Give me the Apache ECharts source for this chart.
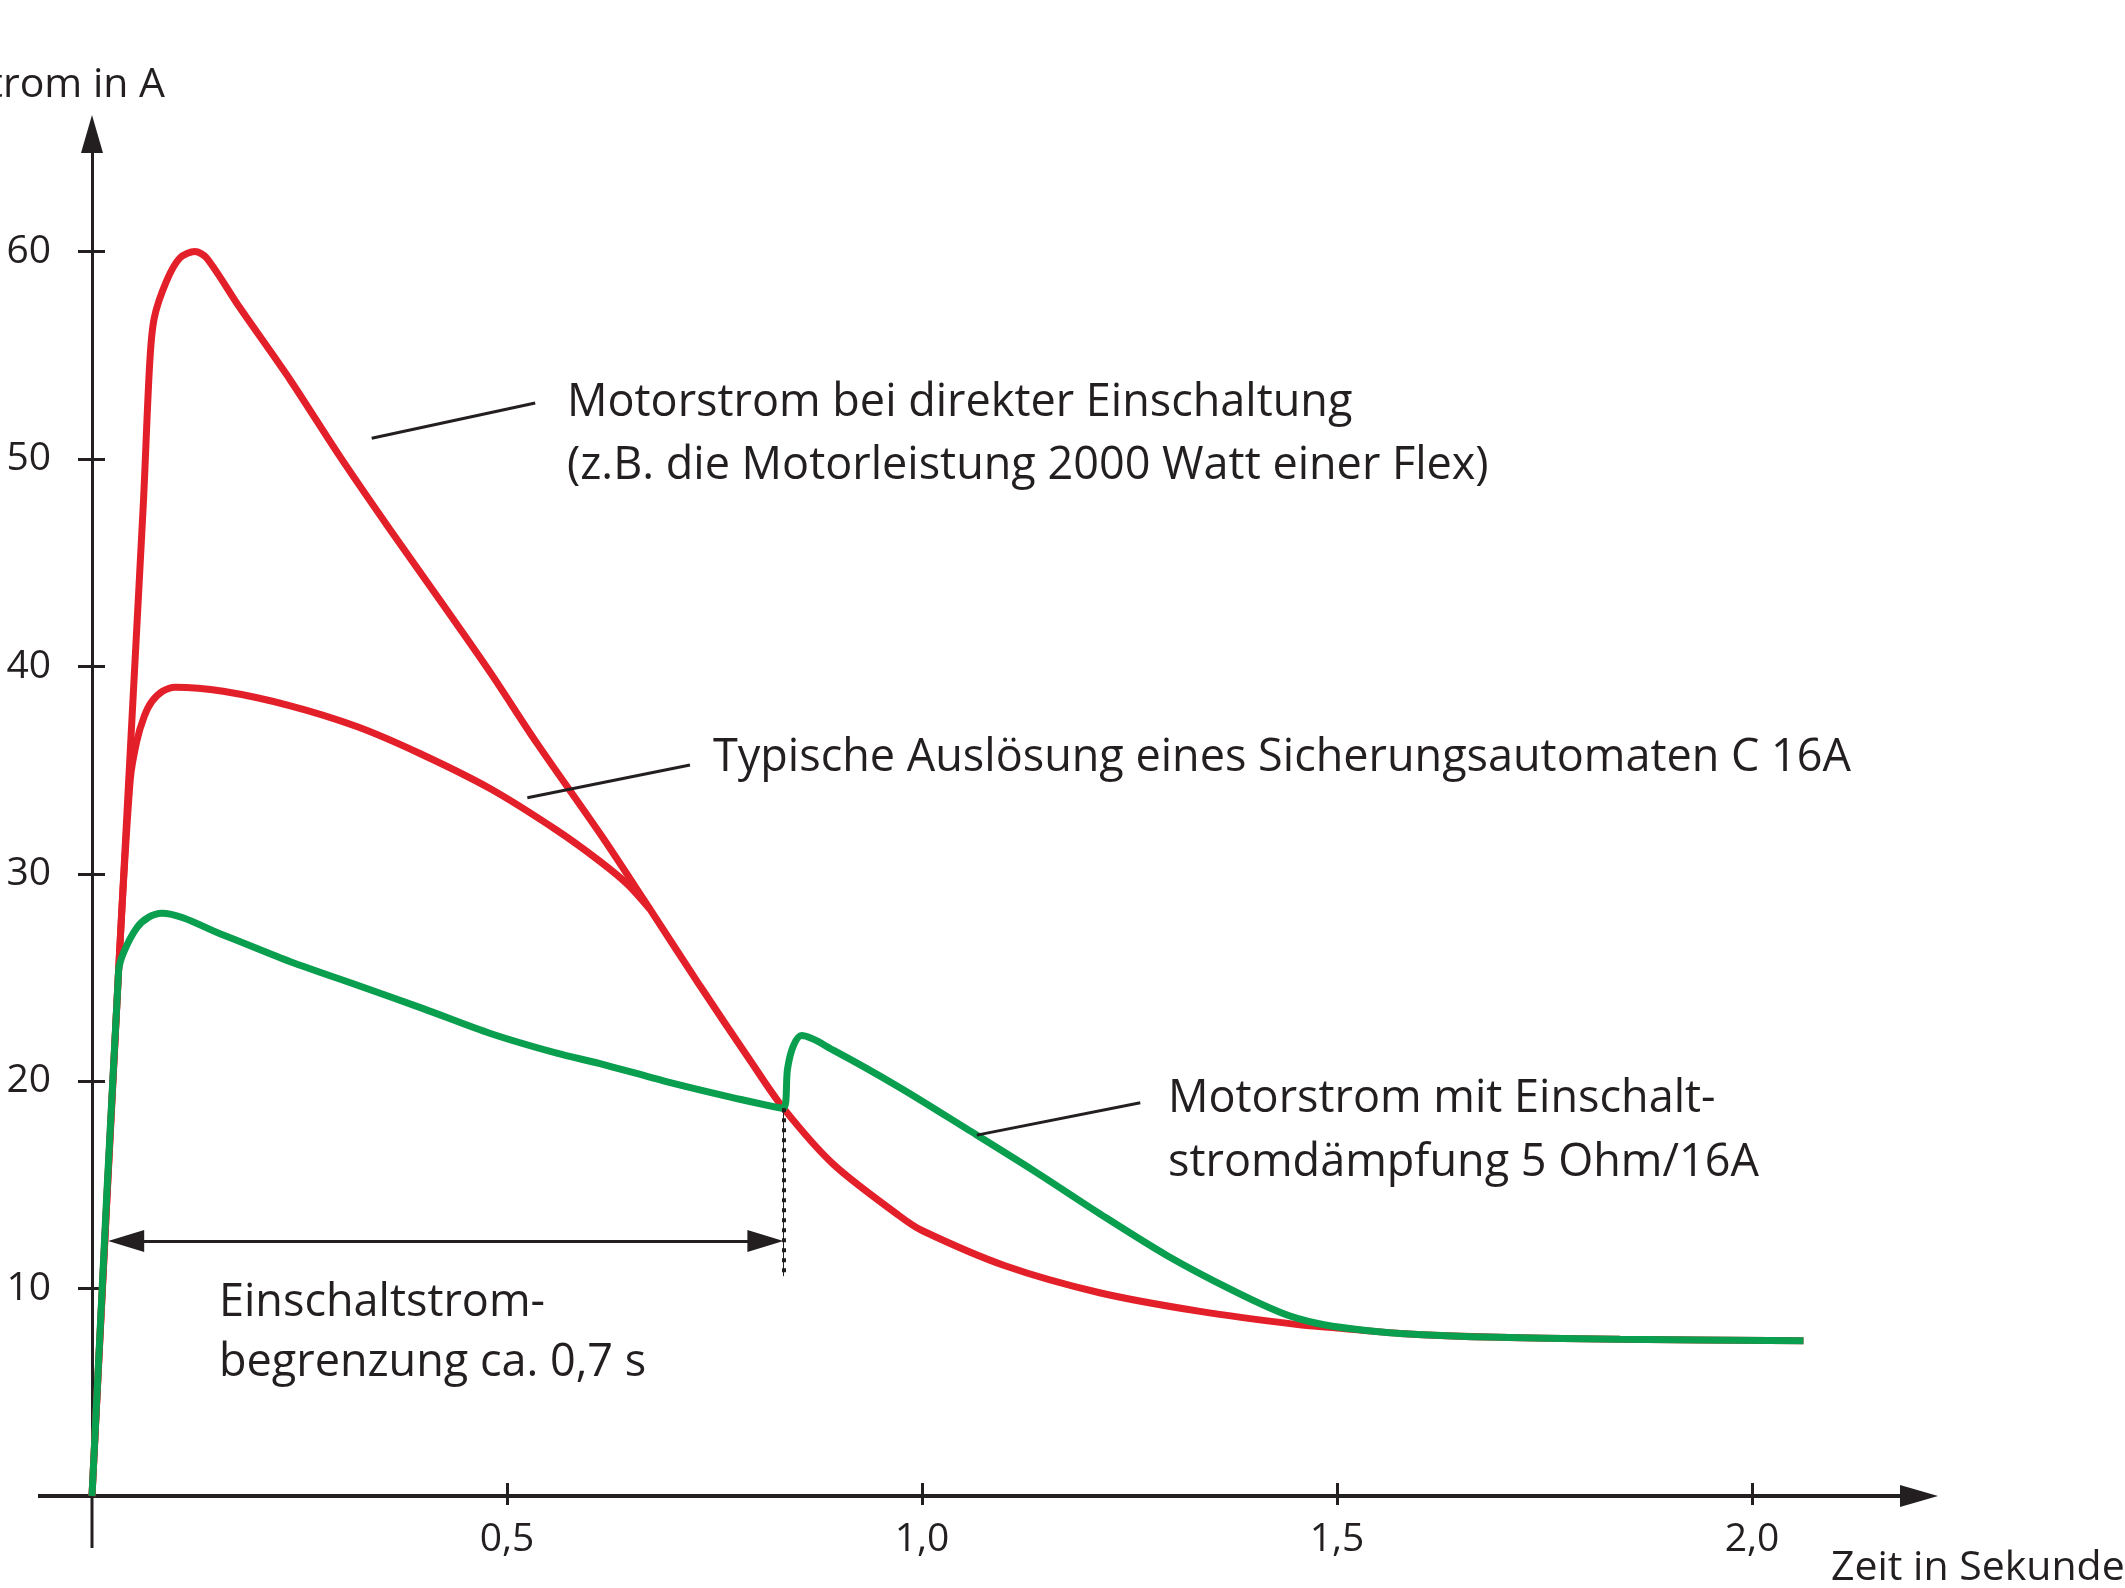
<!DOCTYPE html>
<html>
<head>
<meta charset="utf-8">
<script src="https://cdn.jsdelivr.net/npm/echarts/dist/echarts.min.js"></script>
<style>
html,body{margin:0;padding:0;background:#ffffff;}
#chart{width:2125px;height:1588px;}
</style>
</head>
<body>
<div id="chart"></div>
<script>
// ---------------- data ----------------
const xTickValues = [0.5, 1.0, 1.5, 2.0];
const yTickValues = [10, 20, 30, 40, 50, 60];

// Motorstrom bei direkter Einschaltung
const directT = [0, 0.032, 0.0618, 0.0695, 0.075, 0.090, 0.106, 0.124, 0.138, 0.178, 0.239, 0.299, 0.359, 0.419, 0.480, 0.536, 0.6145, 0.664, 0.7325, 0.793, 0.833, 0.893, 0.973, 1.000, 1.100, 1.214, 1.335, 1.455, 1.500, 1.576, 1.696, 1.841, 2.062];
const directI = [0, 25.3, 47.8, 54.6, 56.8, 58.6, 59.7, 60.0, 59.7, 57.3, 53.8, 50.1, 46.6, 43.2, 39.7, 36.3, 31.8, 28.8, 24.6, 21.0, 18.7, 16.0, 13.5, 12.8, 11.1, 9.8, 8.9, 8.25, 8.1, 7.84, 7.65, 7.56, 7.49];

// Typische Auslösung eines Sicherungsautomaten C 16A
const fuseT = [0, 0.032, 0.046, 0.054, 0.063, 0.072, 0.085, 0.100, 0.158, 0.239, 0.319, 0.395, 0.480, 0.560, 0.612, 0.645, 0.672];
const fuseI = [0, 25.3, 34.5, 36.4, 37.6, 38.3, 38.8, 39.0, 38.8, 38.1, 37.1, 35.8, 34.1, 32.1, 30.6, 29.5, 28.3];

// Motorstrom mit Einschaltstromdämpfung 5 Ohm/16A
const dampT = [0, 0.032, 0.038, 0.054, 0.068, 0.084, 0.158, 0.239, 0.319, 0.399, 0.480, 0.560, 0.612, 0.692, 0.773, 0.833, 0.838, 0.845, 0.855, 0.893, 0.973, 1.054, 1.134, 1.2145, 1.295, 1.375, 1.435, 1.4755, 1.520, 1.576, 1.696, 1.841, 2.062];
const dampI = [0, 25.3, 26.2, 27.4, 27.9, 28.1, 27.05, 25.76, 24.64, 23.5, 22.3, 21.35, 20.85, 19.98, 19.2, 18.7, 20.6, 21.7, 22.2, 21.5, 19.7, 17.7, 15.7, 13.6, 11.6, 9.9, 8.8, 8.33, 8.05, 7.84, 7.65, 7.56, 7.49];

// leader lines and the 0,7 s span (data coordinates)
const calloutDirect = [[0.337, 51.0], [0.534, 52.7]];
const calloutFuse = [[0.5245, 33.67], [0.7205, 35.25]];
const calloutDamp = [[1.066, 17.4], [1.263, 18.96]];
const spanArrow = [[0.0195, 12.3], [0.833, 12.3]];
const cutoffLine = [[0.833, 18.7], [0.833, 10.6]];

// ---------------- chart ----------------
const FONT = '"Open Sans", "DejaVu Sans", sans-serif';
const INK = '#231f20';
const RED = '#e3202a';
const GREEN = '#0a9e4f';

const GRID = { left: 92, right: 206, top: 134, bottom: 92 };
const W = 2125, H = 1588;
const xMin = 0, xMax = 2.2012, yMin = 0, yMax = 65.67;
const pxPerX = (W - GRID.left - GRID.right) / (xMax - xMin);

const zip = (t, v) => t.map((x, i) => [x, v[i]]);
const seg = (p) => [{ coord: p[0] }, { coord: p[1] }];

// arrow heads are centred on the end point, so pull the ends in by half a head
const ARROW_LEN = 36;
const inset = (ARROW_LEN / 2) / pxPerX;
const spanSeg = [[spanArrow[0][0] + inset, spanArrow[0][1]], [spanArrow[1][0] - inset, spanArrow[1][1]]];

function txt(str, x, y, size, align) {
  return {
    type: 'text', silent: true,
    style: {
      text: str, x: x, y: y, fill: INK,
      font: size + 'px ' + FONT,
      align: align || 'left', textAlign: align || 'left',
      verticalAlign: 'middle', textVerticalAlign: 'middle'
    }
  };
}

const chart = echarts.init(document.getElementById('chart'), null, { renderer: 'canvas' });

const baseSeries = {
  type: 'line', xAxisIndex: 0, yAxisIndex: 0, showSymbol: false, symbol: 'none',
  smooth: 0.3, silent: true
};

const option = {
  backgroundColor: '#ffffff',
  animation: false,
  grid: { left: GRID.left, right: GRID.right, top: GRID.top, bottom: GRID.bottom, containLabel: false, outerBoundsMode: 'none' },
  xAxis: [
    {
      type: 'value', min: xMin, max: xMax, position: 'bottom',
      axisLine: { show: true, onZero: false, symbol: ['none', 'triangle'], symbolSize: [22, 38],
                  lineStyle: { color: INK, width: 4 } },
      axisTick: { show: true, inside: true, length: 13, customValues: xTickValues, lineStyle: { color: INK, width: 3 } },
      axisLabel: { show: true, customValues: xTickValues, formatter: v => v.toFixed(1).replace('.', ','),
                   fontFamily: FONT, fontSize: 39, color: INK, margin: 24 },
      splitLine: { show: false }
    },
    {
      type: 'value', min: xMin, max: xMax, position: 'bottom', offset: 0,
      axisLine: { show: false, onZero: false },
      axisTick: { show: true, inside: false, length: 9, customValues: xTickValues, lineStyle: { color: INK, width: 3 } },
      axisLabel: { show: false },
      splitLine: { show: false }
    }
  ],
  yAxis: [
    {
      type: 'value', min: yMin, max: yMax, position: 'left',
      axisLine: { show: true, onZero: false, symbol: ['none', 'triangle'], symbolSize: [22, 38],
                  lineStyle: { color: INK, width: 3 } },
      axisTick: { show: true, inside: true, length: 13, customValues: yTickValues, lineStyle: { color: INK, width: 3 } },
      axisLabel: { show: true, customValues: yTickValues, fontFamily: FONT, fontSize: 39, color: INK, margin: 41 },
      splitLine: { show: false }
    },
    {
      type: 'value', min: yMin, max: yMax, position: 'left', offset: 0,
      axisLine: { show: false, onZero: false },
      axisTick: { show: true, inside: false, length: 14, customValues: yTickValues, lineStyle: { color: INK, width: 3 } },
      axisLabel: { show: false },
      splitLine: { show: false }
    }
  ],
  series: [
    Object.assign({}, baseSeries, {
      name: 'Motorstrom bei direkter Einschaltung',
      data: zip(directT, directI), lineStyle: { color: RED, width: 7 }, z: 3
    }),
    Object.assign({}, baseSeries, {
      name: 'Typische Auslösung eines Sicherungsautomaten C 16A',
      data: zip(fuseT, fuseI), lineStyle: { color: RED, width: 7 }, z: 3
    }),
    Object.assign({}, baseSeries, {
      name: 'Motorstrom mit Einschaltstromdämpfung 5 Ohm/16A',
      data: zip(dampT, dampI), lineStyle: { color: GREEN, width: 7 }, z: 4
    }),
    {
      name: 'callouts', type: 'line', xAxisIndex: 0, yAxisIndex: 0, data: [], silent: true, z: 5,
      markLine: {
        silent: true, animation: false, symbol: ['none', 'none'], label: { show: false },
        emphasis: { disabled: true },
        lineStyle: { color: INK, width: 3, type: 'solid' },
        data: [seg(calloutDirect), seg(calloutFuse), seg(calloutDamp)]
      }
    },
    {
      name: 'span', type: 'line', xAxisIndex: 0, yAxisIndex: 0, data: [], silent: true, z: 5,
      markLine: {
        silent: true, animation: false, symbol: ['triangle', 'triangle'], symbolSize: [22, ARROW_LEN], label: { show: false },
        emphasis: { disabled: true },
        lineStyle: { color: INK, width: 3, type: 'solid' },
        data: [seg(spanSeg)]
      }
    },
    {
      name: 'cutoff', type: 'line', xAxisIndex: 0, yAxisIndex: 0, data: [], silent: true, z: 5,
      markLine: {
        silent: true, animation: false, symbol: ['none', 'none'], label: { show: false },
        emphasis: { disabled: true },
        lineStyle: { color: INK, width: 4, type: [4, 6] },
        data: [seg(cutoffLine)]
      }
    },
    {
      name: 'cutoff-thin', type: 'line', xAxisIndex: 0, yAxisIndex: 0, data: [], silent: true, z: 5,
      markLine: {
        silent: true, animation: false, symbol: ['none', 'none'], label: { show: false },
        emphasis: { disabled: true },
        lineStyle: { color: INK, width: 1, type: 'solid' },
        data: [seg(cutoffLine)]
      }
    }
  ],
  graphic: [
    // axis stubs running past the origin
    { type: 'line', silent: true, shape: { x1: 38, y1: H - GRID.bottom, x2: GRID.left, y2: H - GRID.bottom }, style: { stroke: INK, lineWidth: 4 } },
    { type: 'line', silent: true, shape: { x1: GRID.left, y1: H - GRID.bottom, x2: GRID.left, y2: 1548 }, style: { stroke: INK, lineWidth: 3 } },
    txt('Strom in A', 165, 85, 41, 'right'),
    txt('Zeit in Sekunden', 1831, 1568, 41, 'left'),
    txt('Motorstrom bei direkter Einschaltung', 567, 403, 45, 'left'),
    txt('(z.B. die Motorleistung 2000 Watt einer Flex)', 567, 466, 45, 'left'),
    txt('Typische Auslösung eines Sicherungsautomaten C 16A', 713, 758, 45, 'left'),
    txt('Motorstrom mit Einschalt-', 1168, 1099, 45, 'left'),
    txt('stromdämpfung 5 Ohm/16A', 1168, 1163, 45, 'left'),
    txt('Einschaltstrom-', 219, 1303, 45, 'left'),
    txt('begrenzung ca. 0,7 s', 219, 1363, 45, 'left')
  ]
};

chart.setOption(option);
</script>
</body>
</html>
